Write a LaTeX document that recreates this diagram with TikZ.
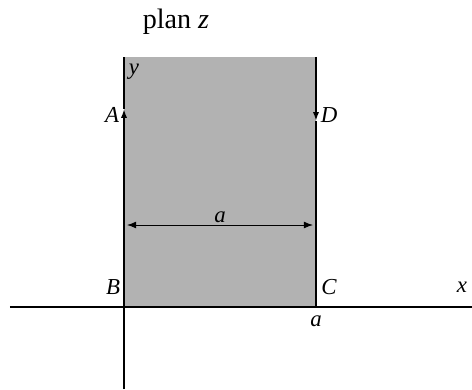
\documentclass[tikz,border=0pt]{standalone}
\usepackage{fontspec}
\setmainfont{Liberation Serif}
\usetikzlibrary{arrows.meta,positioning}

\begin{document}
\begin{tikzpicture}[x=0.02cm,y=0.02cm,>=Latex,
  font=\fontsize{13}{15}\selectfont,
  edge/.style={line width=1.7pt},
  axis/.style={line width=0.7pt},
  lbl/.style={inner sep=1pt,font=\fontsize{13}{15}\selectfont\itshape}]
  \useasboundingbox (-124,-82) rectangle (348,307);
  \fill[gray!60] (0,0) rectangle (192,250);
  % axes
  \coordinate (xl) at (-114,0);
  \coordinate (xr) at (348,0);
  \coordinate (yb) at (0,-82);
  \draw[axis] (xl) -- (xr);
  \draw[axis] (yb) -- (0,0);
  % corners of the strip
  \coordinate (B) at (0,0);
  \coordinate (C) at (192,0);
  \coordinate (A) at (0,198);
  \coordinate (D) at (192,186);
  \coordinate (Bt) at (0,250);
  \coordinate (Ct) at (192,250);
  \draw[edge] (C) -- (B);
  \draw[edge,-{Latex[length=5pt,width=3.5pt]}] (B) -- (A);
  \draw[edge] (A) -- (Bt);
  \draw[edge,-{Latex[length=5pt,width=3.5pt]}] (Ct) -- (D);
  \draw[edge] (D) -- (C);
  % width
  \coordinate (wl) at (3,82);
  \coordinate (wr) at (189,82);
  \draw[<->,line width=0.5pt] (wl) -- node[above,lbl] {a} (wr);
  % labels
  \node[lbl] (lA) at (-12,192) {A};
  \node[lbl] (lD) at (205,192) {D};
  \node[lbl] (lB) at (-11,20) {B};
  \node[lbl] (lC) at (205,20) {C};
  \node[lbl] (lx) at (338,20) {x};
  \node[lbl] (la) at (192,-14) {a};
  \node[lbl] (ly) at (10,235) {y};
  \node[inner sep=1pt,font=\fontsize{16}{18}\selectfont] (title) at (52,285) {plan \textit{z}};
\end{tikzpicture}
\end{document}
